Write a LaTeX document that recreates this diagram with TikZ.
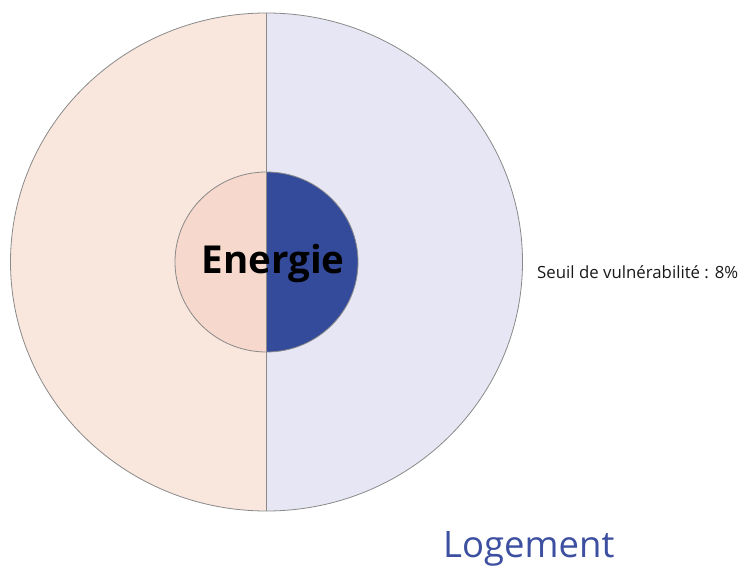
\documentclass[tikz,border=0pt]{standalone}
\usepackage{fontspec}
\setmainfont{Open Sans}
\definecolor{peachL}{HTML}{F9E6DD}
\definecolor{peachD}{HTML}{F6D8CC}
\definecolor{lavL}{HTML}{E6E6F4}
\definecolor{navyD}{HTML}{344A9A}
\definecolor{lineG}{HTML}{8A8A8A}
\definecolor{txtBlue}{HTML}{3D4FA0}
\tikzset{
  outline/.style={draw=lineG, line width=0.8pt},
  bigtitle/.style={font=\fontsize{38.5}{42}\selectfont\bfseries, text=black, inner sep=0pt},
  smalllabel/.style={font=\fontsize{16.8}{19}\selectfont, text=black!90, inner sep=0pt},
  catlabel/.style={font=\fontsize{36.5}{42}\selectfont, text=txtBlue, inner sep=0pt}
}
\begin{document}
\begin{tikzpicture}[x=1pt,y=-1pt]
\useasboundingbox (0,0) rectangle (749,569);
\coordinate (c) at (266.5,262);
\coordinate (top) at (266.5,13);
\coordinate (bot) at (266.5,511);
\begin{scope}
  \clip (0,0) rectangle (266.5,569);
  \fill[peachL] (c) ellipse[x radius=256, y radius=249];
  \fill[peachD] (c) ellipse[x radius=91.5, y radius=90];
\end{scope}
\begin{scope}
  \clip (266.5,0) rectangle (749,569);
  \fill[lavL] (c) ellipse[x radius=256, y radius=249];
  \fill[navyD] (c) ellipse[x radius=91.5, y radius=90];
\end{scope}
\draw[outline] (c) ellipse[x radius=256, y radius=249];
\draw[outline] (c) ellipse[x radius=91.5, y radius=90];
\draw[outline] (top) -- (bot);
\node[bigtitle, anchor=base] (energie) at (273,273) {Energie};
\node[smalllabel, anchor=base west] (seuil) at (537,279) {Seuil de vulnérabilité : 8\%};
\node[catlabel, anchor=base west] (logement) at (443,557) {Logement};
\end{tikzpicture}
\end{document}
